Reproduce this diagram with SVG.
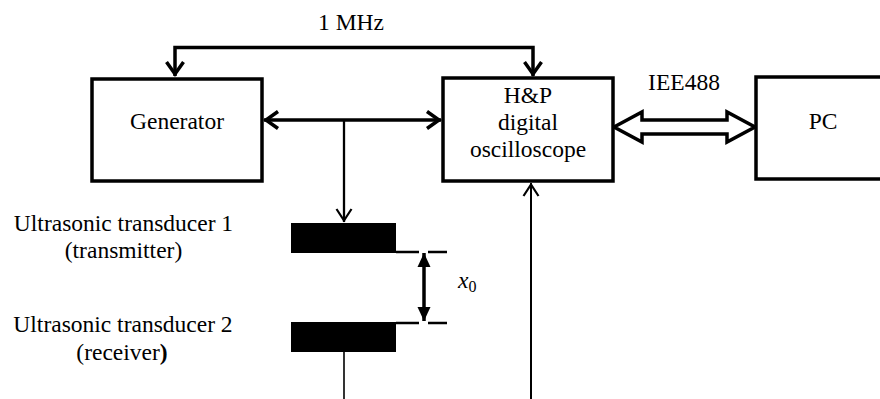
<svg xmlns="http://www.w3.org/2000/svg" width="880" height="399" viewBox="0 0 880 399">
<style>
  .box { fill: #fff; stroke: #000; stroke-width: 3.5; }
  .t { font-family: 'Liberation Serif', 'DejaVu Serif', serif; font-size: 23.5px; fill: #000; text-anchor: middle; }
  .thick { fill: none; stroke: #000; stroke-width: 3.5; }
  .thin { fill: none; stroke: #000; stroke-width: 2; }
  .trans { fill: #000; }
</style>
<defs>
  <marker id="vThick" markerUnits="userSpaceOnUse" viewBox="-20 -12 24 24" markerWidth="24" markerHeight="24" refX="0" refY="0" orient="auto-start-reverse" overflow="visible">
    <path d="M-14,-8.5 L-2,0 L-14,8.5" fill="none" stroke="#000" stroke-width="3.5"/>
  </marker>
  <marker id="vThin" markerUnits="userSpaceOnUse" viewBox="-20 -12 24 24" markerWidth="24" markerHeight="24" refX="0" refY="0" orient="auto-start-reverse" overflow="visible">
    <path d="M-13,-7.5 L-1.5,0 L-13,7.5" fill="none" stroke="#000" stroke-width="2.2"/>
  </marker>
  <marker id="tri" markerUnits="userSpaceOnUse" viewBox="-20 -12 24 24" markerWidth="24" markerHeight="24" refX="0" refY="0" orient="auto-start-reverse" overflow="visible">
    <path d="M0,0 L-14,-6.5 L-14,6.5 Z" fill="#000"/>
  </marker>
</defs>

<g id="connectors">
  <path class="thick" d="M175,76 V47.5 H533 V76" marker-start="url(#vThick)" marker-end="url(#vThick)"/>
  <path class="thick" d="M264,120 H441" marker-start="url(#vThick)" marker-end="url(#vThick)"/>
  <path class="thin" style="stroke-width:2.3" d="M344,120 V222" marker-end="url(#vThin)"/>
  <path class="thin" style="stroke-width:1.6" d="M344,352 V399"/>
  <path class="thin" d="M531,399 V183" marker-end="url(#vThin)"/>
  <polygon class="thick" points="614,127 642,112 642,120 727,120 727,112 755,127 727,142 727,134 642,134 642,142"/>
  <path class="thick" d="M424,253 V321" marker-start="url(#tri)" marker-end="url(#tri)"/>
  <path class="thin" style="stroke-width:2.5" d="M396,252 H419 M428,252 H447 M396,323 H419 M428,323 H447"/>
</g>

<g font-family="'Liberation Serif', 'DejaVu Serif', serif">
<g id="clock-label">
  <text class="t" x="351" y="30">1 MHz</text>
</g>

<g id="generator">
  <rect class="box" x="92" y="79" width="170" height="102"/>
  <text class="t" x="177" y="129">Generator</text>
</g>

<g id="oscilloscope">
  <rect class="box" x="443" y="78" width="170" height="103"/>
  <text class="t" x="528" y="103">H&amp;P</text>
  <text class="t" x="528" y="130">digital</text>
  <text class="t" x="528" y="157">oscilloscope</text>
</g>

<g id="bus-label">
  <text class="t" x="684" y="90">IEE488</text>
</g>

<g id="pc">
  <rect class="box" x="756" y="77" width="140" height="102"/>
  <text class="t" x="823" y="129">PC</text>
</g>

<g id="transducer1">
  <rect class="trans" x="291" y="223" width="105" height="30"/>
  <text class="t" x="123.5" y="231">Ultrasonic transducer 1</text>
  <text class="t" x="123.5" y="258">(transmitter)</text>
</g>

<g id="transducer2">
  <rect class="trans" x="291" y="322" width="105" height="30"/>
  <text class="t" x="123" y="332">Ultrasonic transducer 2</text>
  <text class="t" x="122" y="360">(receiver<tspan font-weight="bold">)</tspan></text>
</g>

<g id="distance-label">
  <text class="t" x="458" y="288" style="text-anchor:start"><tspan font-style="italic">x</tspan><tspan font-size="16" dy="4">0</tspan></text>
</g>
</g>
</svg>
